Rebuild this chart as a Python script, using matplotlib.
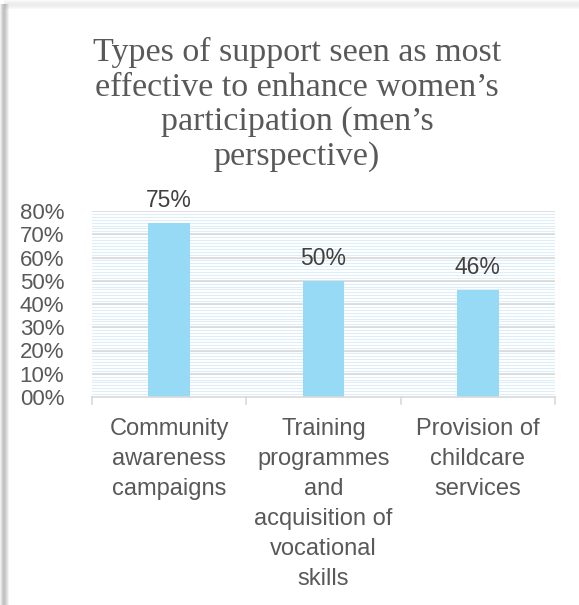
import numpy as np
from matplotlib import pyplot as plt
from matplotlib.patches import Rectangle

# support types and share of men naming each one
categories = ["Community\nawareness\ncampaigns",
              "Training\nprogrammes\nand\nacquisition of\nvocational\nskills",
              "Provision of\nchildcare\nservices"]
values = [0.75, 0.50, 0.46]
value_labels = ["75%", "50%", "46%"]
yticks = [0.0, 0.1, 0.2, 0.3, 0.4, 0.5, 0.6, 0.7, 0.8]
ytick_labels = ["00%", "10%", "20%", "30%", "40%", "50%", "60%", "70%", "80%"]

plt.rcParams['font.family'] = ['Liberation Sans', 'DejaVu Sans']
text_grey = '#595959'

fig = plt.figure(figsize=(5.79, 6.05), dpi=100)

# soft shadow along the left and top edges of the chart frame
left_alpha = [0.10, 0.22, 0.35, 0.42, 0.42, 0.36, 0.28, 0.18, 0.08]
for i, a in enumerate(left_alpha):
    fig.patches.append(Rectangle((i / 579, 0), 1 / 579, 1 - 4 / 605,
                                 transform=fig.transFigure, color='#707070',
                                 alpha=a, lw=0))
top_alpha = [0.04, 0.07, 0.10, 0.12, 0.13, 0.12, 0.10, 0.07, 0.04]
for j, a in enumerate(top_alpha):
    fig.patches.append(Rectangle((4 / 579, 1 - (j + 1) / 605), 1, 1 / 605,
                                 transform=fig.transFigure, color='#707070',
                                 alpha=a, lw=0))

ax = fig.add_axes([92 / 579, 1 - 397 / 605, 463 / 579, 186 / 605])
x = np.arange(len(categories))

# faint striped fill behind the bars
for yy in np.arange(0.0, 0.8, 0.0125):
    ax.axhline(yy, color='#deedf7', lw=0.8, zorder=0)
for yy in yticks[1:]:
    ax.axhline(yy, color='#d9d9d9', lw=1.2, zorder=1)

ax.bar(x, values, width=0.27, color='#97DAF6', zorder=2)
for xi, v, lab in zip(x, values, value_labels):
    ax.annotate(lab, (xi, v), xytext=(0, 8), textcoords='offset points',
                ha='center', va='bottom', fontsize=16.5, color='#404040')

ax.set_xlim(-0.5, len(categories) - 0.5)
ax.set_ylim(0, 0.8)
ax.set_yticks(yticks)
ax.set_yticklabels(ytick_labels, fontsize=16, color=text_grey)
ax.tick_params(axis='y', length=0, pad=20)

ax.set_xticks(x)
ax.set_xticklabels(categories, fontsize=17, color=text_grey, linespacing=1.47,
                   va='top')
ax.tick_params(axis='x', length=0, pad=15)
# tick marks at category boundaries
for b in np.arange(-0.5, len(categories), 1.0):
    ax.plot([b, b], [0, -0.03], color='#d9d9d9', lw=1.2, clip_on=False)

for s in ['top', 'right', 'left']:
    ax.spines[s].set_visible(False)
ax.spines['bottom'].set_color('#d9d9d9')
ax.spines['bottom'].set_linewidth(1.2)

fig.text(0.513, 1 - 37 / 605,
         "Types of support seen as most\neffective to enhance women\u2019s\n"
         "participation (men\u2019s\nperspective)",
         ha='center', va='top', fontsize=24.5, color=text_grey,
         family=['Liberation Serif', 'DejaVu Serif'], linespacing=1.17)

fig.savefig("out.png", dpi=100)
